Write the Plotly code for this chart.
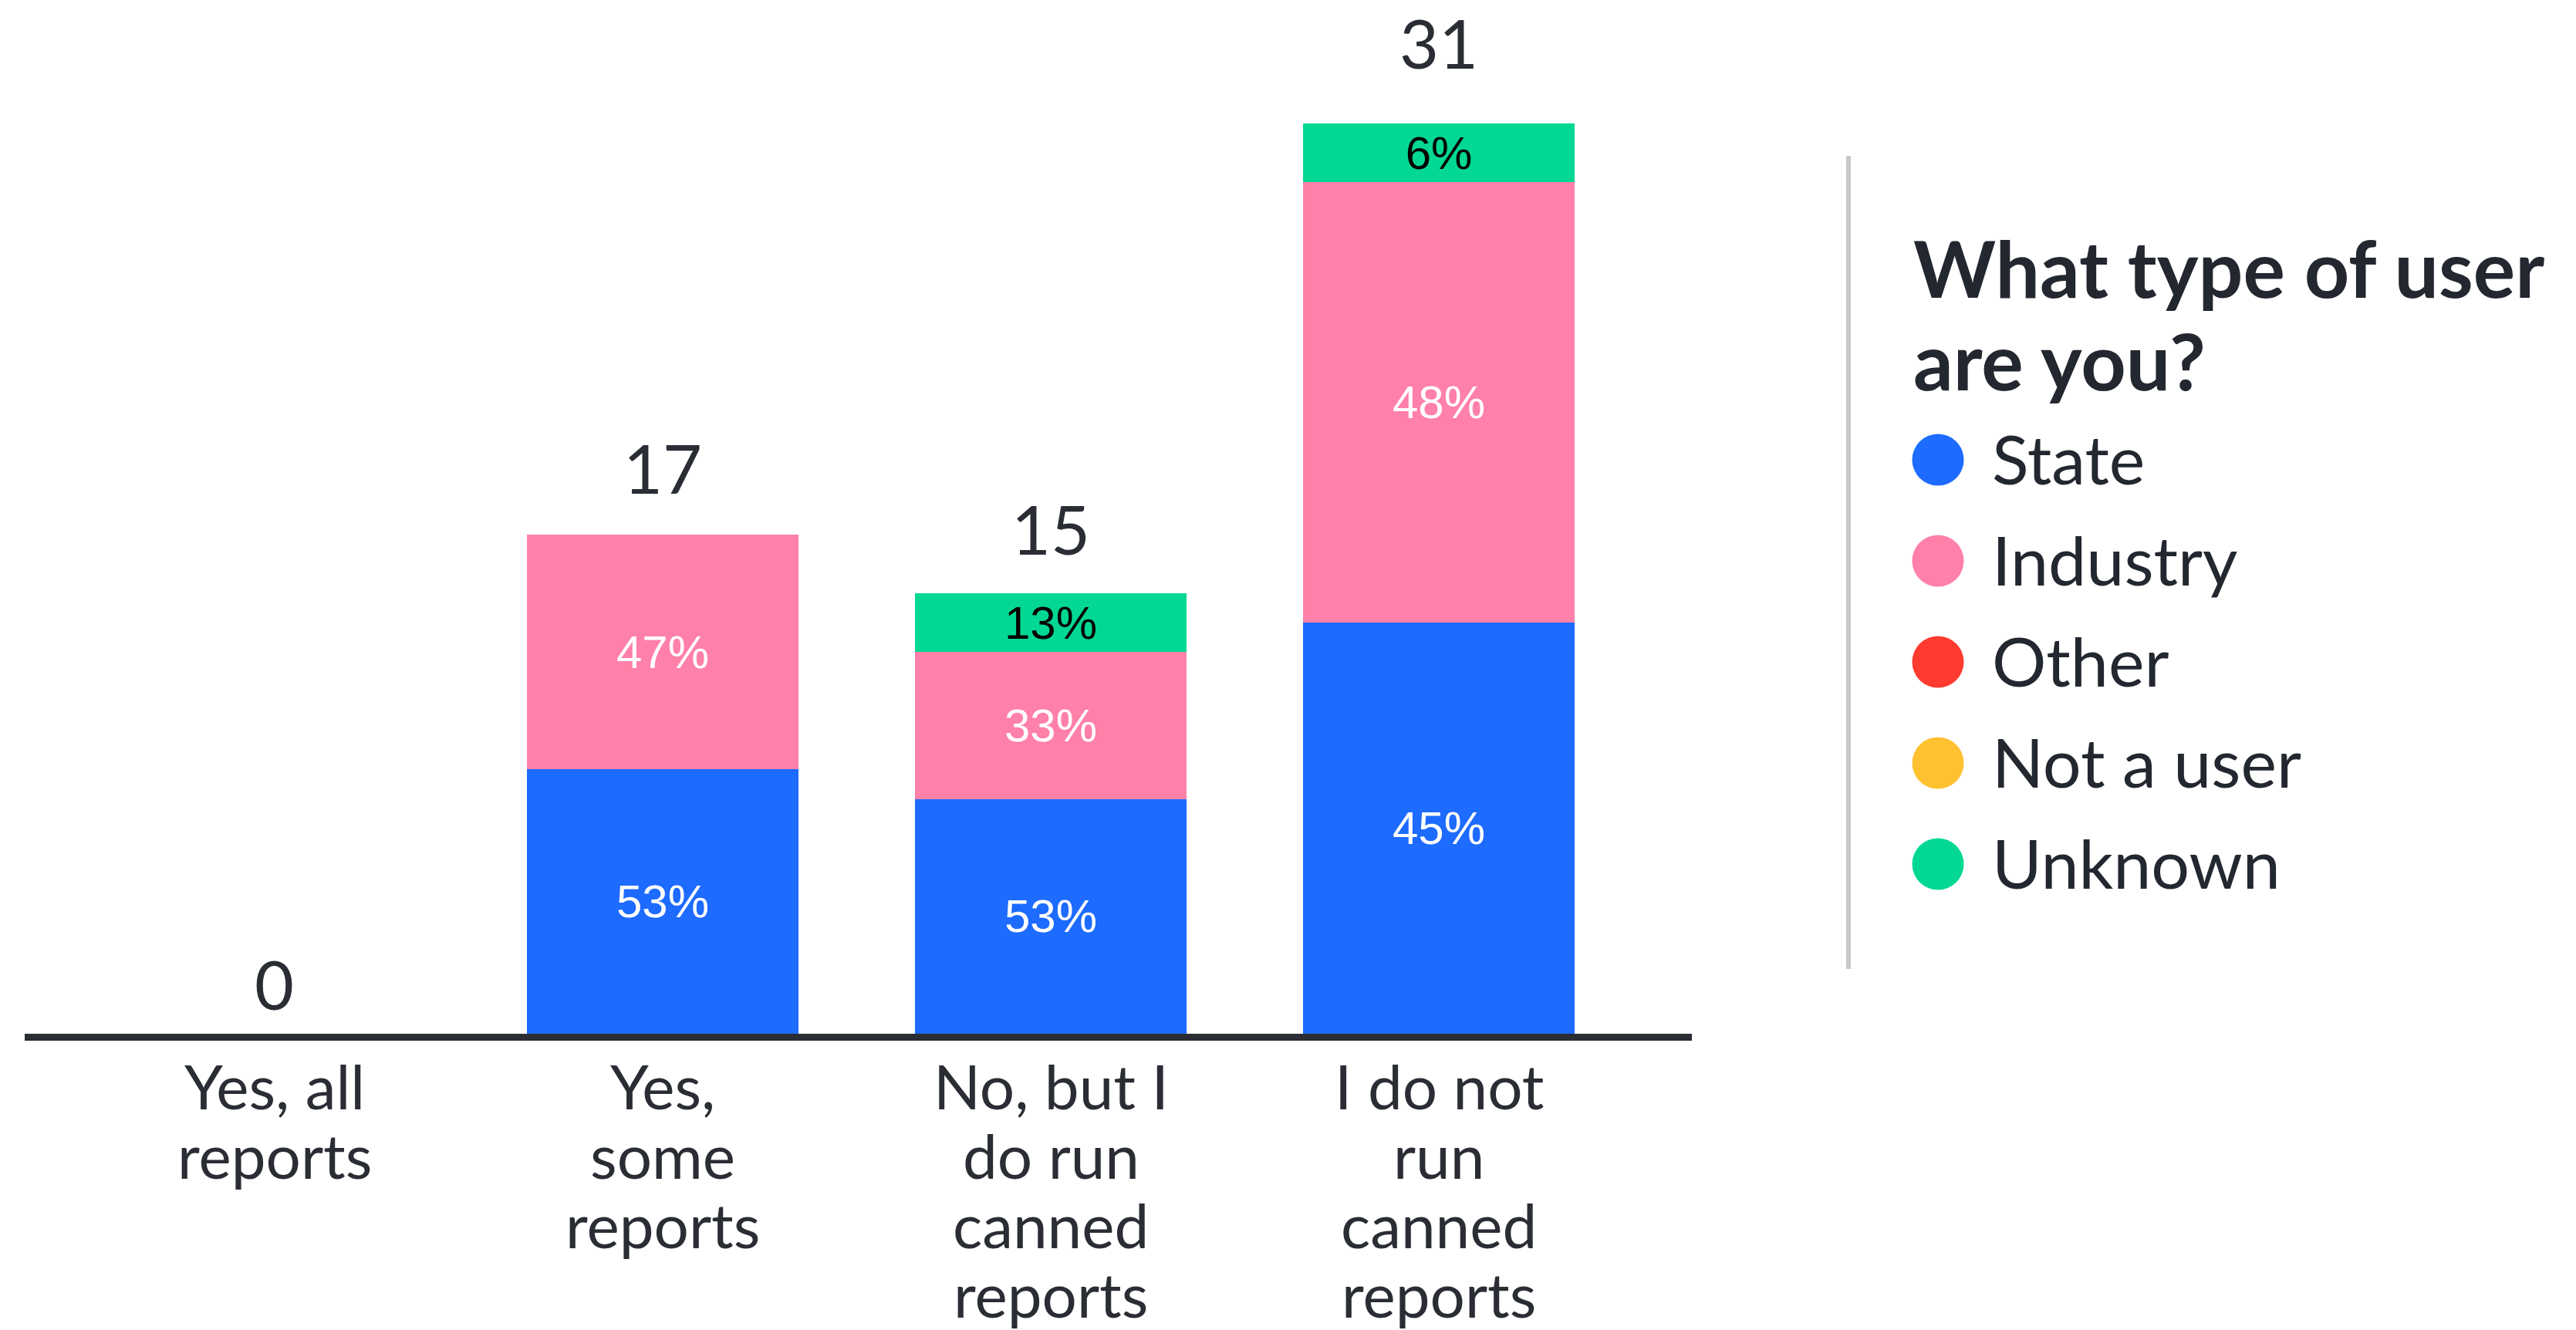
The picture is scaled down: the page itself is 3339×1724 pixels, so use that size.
import plotly.graph_objects as go

# ---- data ----
categories = [
    "Yes, all<br>reports",
    "Yes,<br>some<br>reports",
    "No, but I<br>do run<br>canned<br>reports",
    "I do not<br>run<br>canned<br>reports",
]
user_types = ["State", "Industry", "Other", "Not a user", "Unknown"]
state = [0, 9, 8, 14]
industry = [0, 8, 5, 15]
other = [0, 0, 0, 0]
not_a_user = [0, 0, 0, 0]
unknown = [0, 0, 2, 2]
legend_title = ["What type of user", "are you?"]

series = [state, industry, other, not_a_user, unknown]
colors = ["#1d6bff", "#ff80a8", "#ff3b30", "#ffc130", "#02d893"]
pct_text_colors = ["white", "white", "white", "black", "black"]

totals = [sum(v) for v in zip(*series)]

# ---- canvas geometry (pixels) ----
W, H = 3339, 1724
PL, PR, PT, PB = 32, 2193, 40, 1340       # plot area edges
PX_PER_UNIT = 38.06
DARK = "#2a2d34"
LABEL_FONT = "Lato"


def px_x(px):
    return (px - PL) / (PR - PL)


def px_y(py):
    return (PB - py) / (PB - PT)


fig = go.Figure()

for name, vals, col, tcol in zip(user_types, series, colors, pct_text_colors):
    text = [f"{round(v / t * 100)}%" if v > 0 else "" for v, t in zip(vals, totals)]
    fig.add_trace(go.Bar(
        name=name,
        x=categories,
        y=vals,
        width=0.698,
        marker=dict(color=col, line=dict(width=0)),
        text=text,
        texttemplate="%{text}",
        textposition="inside",
        insidetextanchor="middle",
        textangle=0,
        textfont=dict(family="Liberation Sans, Arial, sans-serif", size=60, color=tcol),
        showlegend=False,
        hoverinfo="skip",
    ))

annotations = []

# totals above each stack; taller stacks get their number lifted a bit more
for cat, tot in zip(categories, totals):
    gap = 30 + 1.3 * tot
    annotations.append(dict(
        x=cat, y=tot, xref="x", yref="y",
        text=str(tot), showarrow=False,
        yanchor="bottom", xanchor="center",
        yshift=gap - 20,
        font=dict(family=LABEL_FONT, size=88, color=DARK),
    ))

# category labels under the axis, one annotation per line
line_step = 90
first_center = 1407
for cat in categories:
    for j, line in enumerate(cat.split("<br>")):
        annotations.append(dict(
            x=cat, xref="x",
            y=px_y(first_center + j * line_step), yref="paper",
            text=line, showarrow=False,
            xanchor="center", yanchor="middle",
            font=dict(family=LABEL_FONT, size=80, color=DARK),
        ))

# legend block
title_x = 2478
for j, line in enumerate(legend_title):
    annotations.append(dict(
        x=px_x(title_x), xref="paper",
        y=px_y(346 + j * 120), yref="paper",
        text=line, showarrow=False,
        xanchor="left", yanchor="middle",
        font=dict(family=LABEL_FONT, size=102, color="#23272f", weight=700),
    ))

shapes = []
item_step = 131
item_center0 = 596
dot_cx, dot_r = 2512, 33.5
for i, (name, col) in enumerate(zip(user_types, colors)):
    cy = item_center0 + i * item_step
    shapes.append(dict(
        type="circle", xref="paper", yref="paper",
        x0=px_x(dot_cx - dot_r), x1=px_x(dot_cx + dot_r),
        y0=px_y(cy + dot_r), y1=px_y(cy - dot_r),
        fillcolor=col, line=dict(width=0),
    ))
    annotations.append(dict(
        x=px_x(2580), xref="paper",
        y=px_y(cy - 2), yref="paper",
        text=name, showarrow=False,
        xanchor="left", yanchor="middle",
        font=dict(family=LABEL_FONT, size=88, color="#23272f"),
    ))

# divider between chart and legend
shapes.append(dict(
    type="line", xref="paper", yref="paper",
    x0=px_x(2396), x1=px_x(2396), y0=px_y(1256), y1=px_y(202),
    line=dict(color="#c8c8c8", width=6),
))

y_top = (PB - PT) / PX_PER_UNIT

fig.update_layout(
    width=W, height=H,
    margin=dict(l=PL, r=W - PR, t=PT, b=H - PB, pad=0),
    barmode="stack",
    plot_bgcolor="white",
    paper_bgcolor="white",
    showlegend=False,
    uniformtext=dict(minsize=60, mode="show"),
    xaxis=dict(
        type="category",
        range=[-0.644, 3.652],
        showline=True, linecolor=DARK, linewidth=9,
        showticklabels=False, ticks="",
        showgrid=False, zeroline=False,
    ),
    yaxis=dict(
        range=[0, y_top],
        visible=False,
        showgrid=False, zeroline=False,
    ),
    annotations=annotations,
    shapes=shapes,
)

fig.write_html("out.html")
